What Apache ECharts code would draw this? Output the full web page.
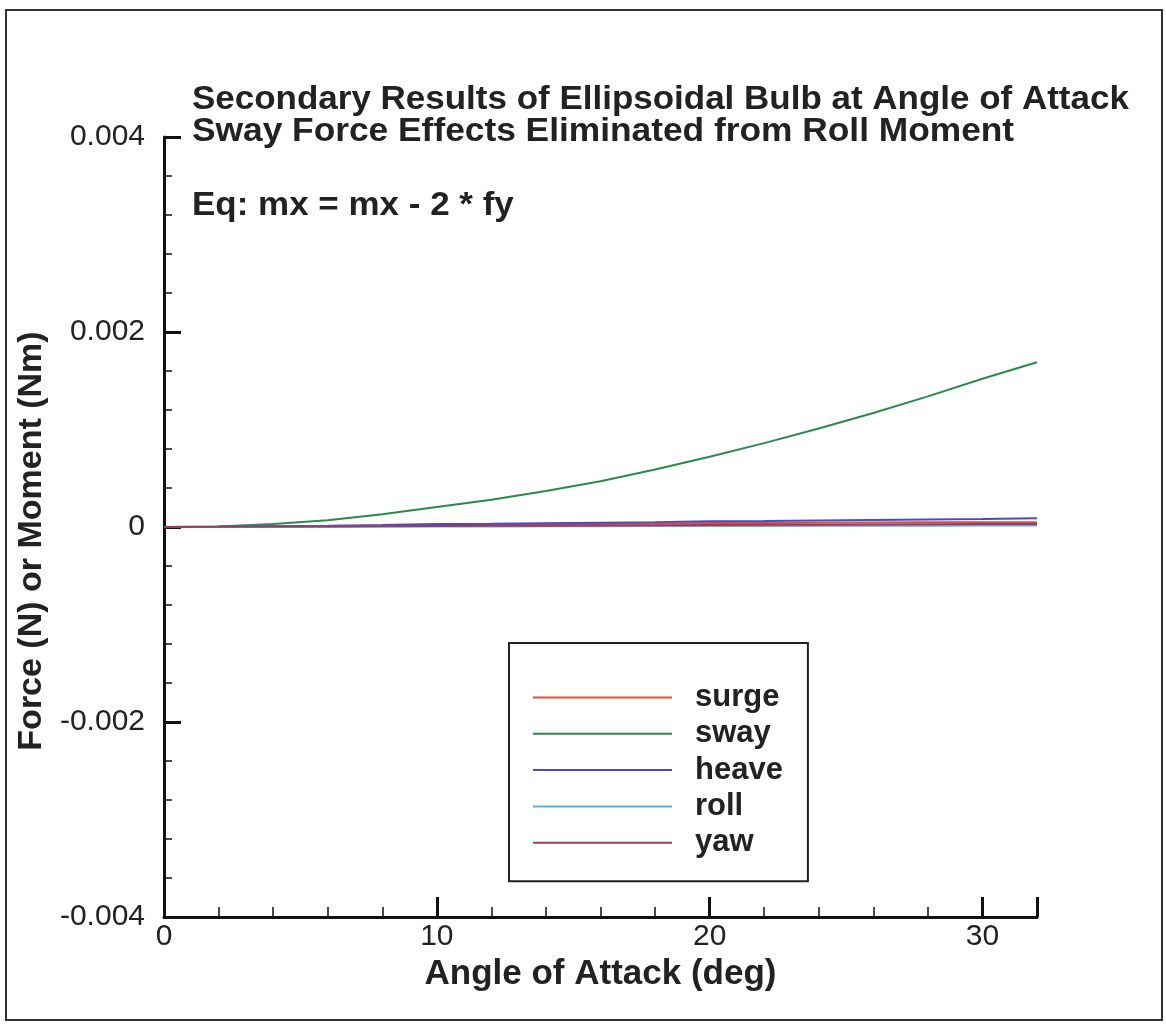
<!DOCTYPE html>
<html>
<head>
<meta charset="utf-8">
<script src="https://cdn.jsdelivr.net/npm/echarts@6/dist/echarts.min.js"></script>
<style>
html,body{margin:0;padding:0;background:#fff;}
#chart{width:1166px;height:1025px;}
</style>
</head>
<body>
<div id="chart"></div>
<script>
// Data
const angles = [0, 2, 4, 6, 8, 10, 12, 14, 16, 18, 20, 22, 24, 26, 28, 30, 32];
const surge = [0, 0.000002, 0.000005, 0.000008, 0.000012, 0.00002, 0.000024, 0.000028, 0.000032, 0.000036, 0.00004, 0.000042, 0.000044, 0.000046, 0.000048, 0.00005, 0.00005];
const sway  = [0, 0.000005, 0.00003, 0.00007, 0.00013, 0.000205, 0.00028, 0.00037, 0.00047, 0.00059, 0.00072, 0.00086, 0.00101, 0.00117, 0.00134, 0.00152, 0.00169];
const heave = [0, 0.000003, 0.000008, 0.000013, 0.00002, 0.00003, 0.000033, 0.000038, 0.000044, 0.00005, 0.000058, 0.000062, 0.000067, 0.000072, 0.000077, 0.000083, 0.00009];
const roll  = [0, 0.000001, 0.000002, 0.000003, 0.000004, 0.000005, 0.000006, 0.000007, 0.000008, 0.000009, 0.00001, 0.000011, 0.000012, 0.000013, 0.000014, 0.000015, 0.000016];
const yaw   = [0, 0.000002, 0.000004, 0.000006, 0.000008, 0.00001, 0.000012, 0.000014, 0.000016, 0.000018, 0.00002, 0.000022, 0.000024, 0.000026, 0.000028, 0.00003, 0.000032];
const seriesNames = ['surge', 'sway', 'heave', 'roll', 'yaw'];
const seriesData = [surge, sway, heave, roll, yaw];
const seriesColors = ['#d8503a', '#2a8a4a', '#4a4ac8', '#50b4e8', '#a03a5a'];
const yTicks = [-0.004, -0.002, 0, 0.002, 0.004];
const xTicks = [0, 10, 20, 30];
const titleLines = ['Secondary Results of Ellipsoidal Bulb at Angle of Attack', 'Sway Force Effects Eliminated from Roll Moment'];
const eqText = 'Eq: mx = mx - 2 * fy';
const xName = 'Angle of Attack (deg)';
const yName = 'Force (N) or Moment (Nm)';

const FONT = '"Liberation Sans", Arial, Helvetica, sans-serif';
const chart = echarts.init(document.getElementById('chart'));

const drawOrder = [0, 1, 3, 4, 2];
const series = drawOrder.map(i => ({
  name: seriesNames[i],
  type: 'line',
  data: angles.map((a, k) => [a, seriesData[i][k]]),
  symbol: 'none',
  showSymbol: false,
  lineStyle: { color: seriesColors[i], width: 2 },
  itemStyle: { color: seriesColors[i] },
  z: 2 + i
}));

chart.setOption({
  animation: false,
  backgroundColor: '#fff',
  grid: { left: 164, right: 129, top: 137, bottom: 108, containLabel: false },
  xAxis: {
    type: 'value', min: 0, max: 32, interval: 10,
    name: xName, nameLocation: 'middle', nameGap: 39,
    nameTextStyle: { fontFamily: FONT, fontWeight: 'bold', fontSize: 35, color: '#222' },
    axisLine: { onZero: false, lineStyle: { color: '#111', width: 3 } },
    axisTick: { inside: true, length: 20, lineStyle: { color: '#111', width: 3 } },
    minorTick: { show: true, splitNumber: 5, length: 10, lineStyle: { color: '#111', width: 1.5 } },
    splitLine: { show: false },
    axisLabel: { fontFamily: FONT, fontSize: 30, color: '#222', margin: 5,
      formatter: v => xTicks.includes(v) ? String(v) : '' }
  },
  yAxis: {
    type: 'value', min: -0.004, max: 0.004, interval: 0.002,
    name: yName, nameLocation: 'middle', nameGap: 101, nameRotate: 90,
    nameTextStyle: { fontFamily: FONT, fontWeight: 'bold', fontSize: 34, color: '#222', padding: [0, 28, 0, 0] },
    axisLine: { onZero: false, lineStyle: { color: '#111', width: 3 } },
    axisTick: { inside: true, length: 17, lineStyle: { color: '#111', width: 3 } },
    minorTick: { show: true, splitNumber: 5, length: 8, lineStyle: { color: '#111', width: 1.5 } },
    splitLine: { show: false },
    axisLabel: { fontFamily: FONT, fontSize: 30, color: '#222', margin: 19,
      formatter: v => { const t = yTicks.find(y => Math.abs(y - v) < 1e-9); return t === undefined ? '' : (t === 0 ? '0' : String(t)); } }
  },
  legend: {
    data: seriesNames,
    orient: 'vertical', left: 509, top: 643,
    borderColor: '#222', borderWidth: 2,
    padding: [39, 25, 23, 24],
    icon: 'rect',
    itemWidth: 139, itemHeight: 2, itemGap: 5.3,
    textStyle: { fontFamily: FONT, fontWeight: 'bold', fontSize: 31, color: '#222', padding: [0, 0, 0, 18] },
    selectedMode: false
  },
  graphic: [
    { type: 'rect', shape: { x: 6, y: 10, width: 1156, height: 1010 }, style: { fill: 'none', stroke: '#333', lineWidth: 2 }, silent: true, z: 0 },
    { type: 'text', x: 192, y: 83, scaleX: 1.06, style: { text: titleLines[0], font: 'bold 33px ' + FONT, fill: '#222' } },
    { type: 'text', x: 192, y: 115, scaleX: 1.07, style: { text: titleLines[1], font: 'bold 33px ' + FONT, fill: '#222' } },
    { type: 'text', x: 192, y: 189, scaleX: 1.06, style: { text: eqText, font: 'bold 33px ' + FONT, fill: '#222' } }
  ],
  series: series
});
</script>
</body>
</html>
